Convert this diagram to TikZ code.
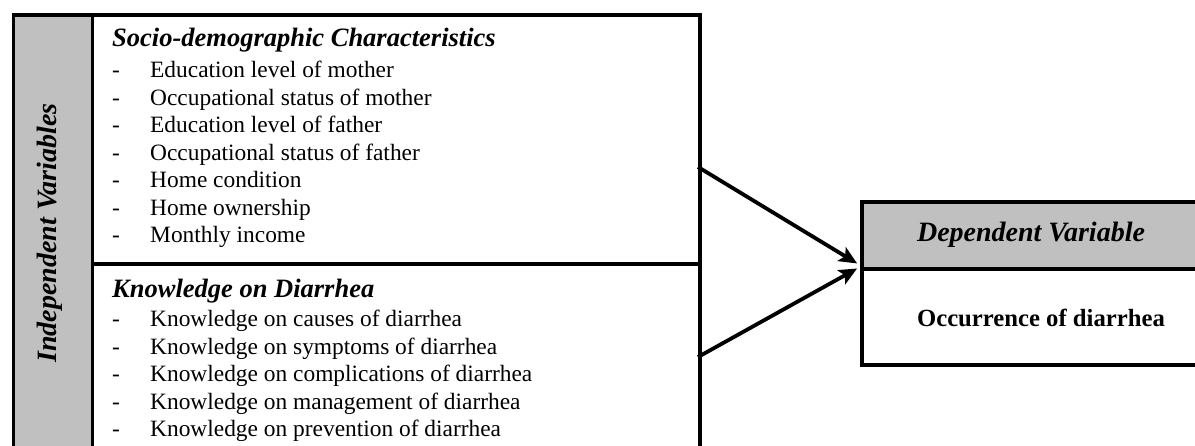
\documentclass[tikz,border=0pt]{standalone}
\usepackage{fontspec}
\setmainfont{Liberation Serif}
\usetikzlibrary{arrows.meta}
\definecolor{hdr}{RGB}{192,192,192}
\tikzset{
  box/.style={draw=black, line width=3.6pt, anchor=north west, inner sep=0pt},
  item/.style={anchor=base west, inner sep=0pt, font=\fontsize{23.4}{28}\selectfont},
  dashmark/.style={anchor=base west, inner sep=0pt, font=\fontsize{23.4}{28}\selectfont},
  sechead/.style={anchor=base west, inner sep=0pt, font=\fontsize{26.5}{30}\selectfont\bfseries\itshape},
  arr/.style={line width=3.8pt, -{Stealth[length=18pt,width=16pt,inset=4pt]}, shorten >=1pt}
}
\begin{document}
\begin{tikzpicture}[x=1pt,y=-1pt]
\useasboundingbox (0,0) rectangle (1195,446);
\clip (0,0) rectangle (1195,446);
\fill[white] (0,0) rectangle (1195,446);
% independent strip and sections
\node[box, fill=hdr, minimum width=79pt, minimum height=480pt] (indep) at (11.5,13) {};
\node[box, fill=white, minimum width=607.5pt, minimum height=249.5pt] (socio) at (90.5,13) {};
\node[box, fill=white, minimum width=607.5pt, minimum height=230pt] (know) at (90.5,262.5) {};
\node[rotate=90, font=\fontsize{28}{30}\selectfont\bfseries\itshape] (indeplabel) at (50,233) {Independent Variables};
% socio-demographic section
\node[sechead] (sh) at (112,47) {Socio-demographic Characteristics};
\foreach \t [count=\i from 0] in {Education level of mother, Occupational status of mother, Education level of father, Occupational status of father, Home condition, Home ownership, Monthly income}{
  \node[dashmark] (sd\i) at (112,78+27.5*\i) {-};
  \node[item] (si\i) at (150,78+27.5*\i) {\t};
}
% knowledge section
\node[sechead] (kh) at (112,298) {Knowledge on Diarrhea};
\foreach \t [count=\i from 0] in {Knowledge on causes of diarrhea, Knowledge on symptoms of diarrhea, Knowledge on complications of diarrhea, Knowledge on management of diarrhea, Knowledge on prevention of diarrhea}{
  \node[dashmark] (kd\i) at (112,327+27.5*\i) {-};
  \node[item] (ki\i) at (150,327+27.5*\i) {\t};
}
% dependent box
\node[box, fill=hdr, minimum width=360pt, minimum height=67pt] (dephead) at (860,200) {};
\node[box, fill=white, minimum width=360pt, minimum height=96pt] (depbody) at (860,267) {};
\node[anchor=base, inner sep=0pt, font=\fontsize{28}{30}\selectfont\bfseries\itshape] (deplabel) at (1031,242) {Dependent Variable};
\node[anchor=base, inner sep=0pt, font=\fontsize{24.7}{28}\selectfont\bfseries] (occ) at (1041,327) {Occurrence of diarrhea};
% arrows
\coordinate (a1) at (698,167);
\coordinate (a2) at (698,357);
\coordinate (t1) at (858,264);
\coordinate (t2) at (858,268);
\draw[arr] (a1) -- (t1);
\draw[arr] (a2) -- (t2);
\end{tikzpicture}
\end{document}
